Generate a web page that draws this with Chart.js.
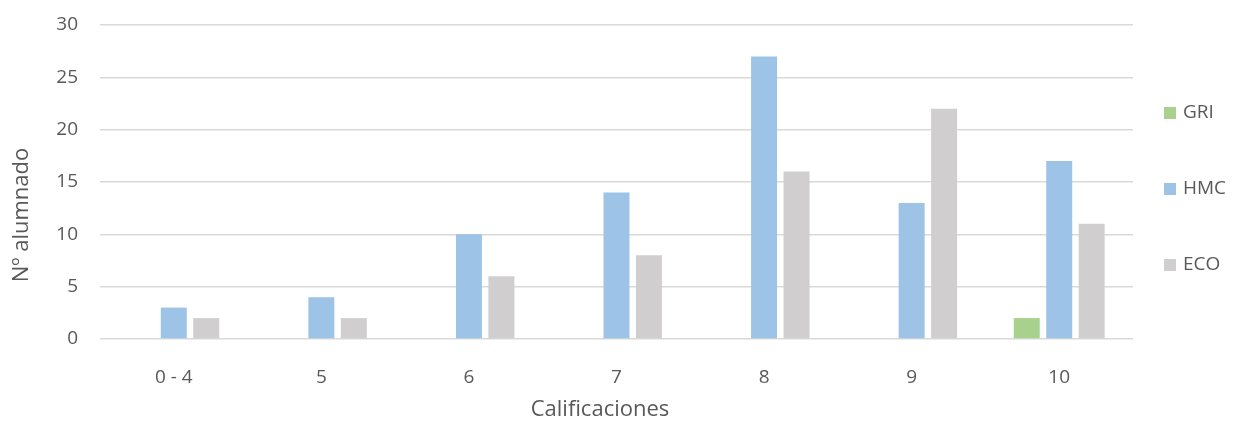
<!DOCTYPE html>
<html>
<head>
<meta charset="utf-8">
<script src="https://cdn.jsdelivr.net/npm/chart.js"></script>
<style>
  html, body { margin: 0; padding: 0; background: #fff; }
</style>
</head>
<body>
<canvas id="myChart" width="1235" height="422"></canvas>

<script>
const categories = ['0 - 4', '5', '6', '7', '8', '9', '10'];
const gri = [0, 0, 0, 0, 0, 0, 2];
const hmc = [3, 4, 10, 14, 27, 13, 17];
const eco = [2, 2, 6, 8, 16, 22, 11];
const yTicks = [0, 5, 10, 15, 20, 25, 30];
const xTitle = 'Calificaciones';
const yTitle = 'Nº alumnado';

const textColor = '#595959';
const fontFamily = '"Open Sans", Lato, sans-serif';

// legend and axis titles drawn by hand, placed like the Excel original
const sideLegend = {
  id: 'sideLegend',
  afterDraw(chart) {
    const ctx = chart.ctx;
    const x = chart.chartArea.right + 31;
    ctx.save();
    ctx.font = '19px ' + fontFamily;
    ctx.textBaseline = 'middle';
    chart.data.datasets.forEach((ds, i) => {
      const y = 113 + i * 76;
      ctx.fillStyle = ds.backgroundColor;
      ctx.fillRect(x, y - 6, 12, 12);
      ctx.fillStyle = textColor;
      ctx.fillText(ds.label, x + 19, y);
    });

    ctx.font = '22px ' + fontFamily;
    ctx.textAlign = 'center';
    ctx.fillText(xTitle, 600, 410);
    ctx.translate(22, 215);
    ctx.rotate(-Math.PI / 2);
    ctx.fillText(yTitle, 0, 0);
    ctx.restore();
  }
};

new Chart(document.getElementById('myChart'), {
  type: 'bar',
  data: {
    labels: categories,
    datasets: [
      { label: 'GRI', data: gri, backgroundColor: '#A9D18E' },
      { label: 'HMC', data: hmc, backgroundColor: '#9DC3E6' },
      { label: 'ECO', data: eco, backgroundColor: '#D0CECE' }
    ]
  },
  plugins: [sideLegend],
  options: {
    responsive: false,
    animation: false,
    categoryPercentage: 0.66,
    barPercentage: 0.8,
    layout: { padding: { top: 25, right: 102, left: 0, bottom: 0 } },
    plugins: {
      tooltip: { enabled: false },
      legend: { display: false }
    },
    scales: {
      x: {
        afterFit: axis => { axis.height = 83; },
        grid: { display: false },
        border: { display: false },
        ticks: { color: textColor, font: { family: fontFamily, size: 19 }, padding: 19 }
      },
      y: {
        min: 0,
        max: 30,
        afterBuildTicks: axis => { axis.ticks = yTicks.map(v => ({ value: v })); },
        afterFit: axis => { axis.width = 100; axis.paddingTop = 0; axis.paddingBottom = 0; },
        grid: { color: '#D9D9D9', lineWidth: 1.5, drawTicks: false },
        border: { display: false },
        ticks: { color: textColor, font: { family: fontFamily, size: 19 }, padding: 22 }
      }
    }
  }
});
</script>
</body>
</html>
